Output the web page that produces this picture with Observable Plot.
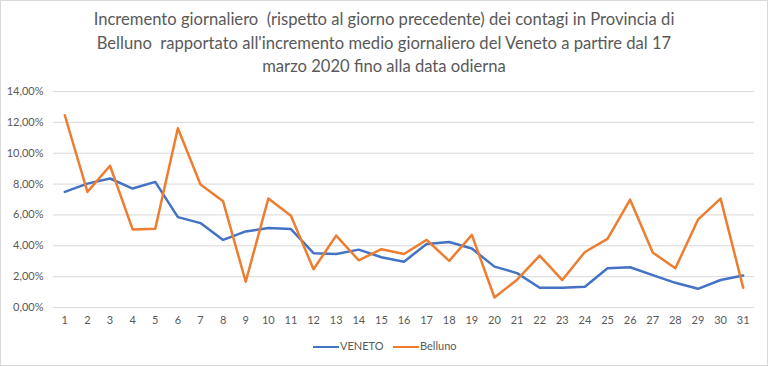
<!DOCTYPE html>
<html><head><meta charset="utf-8">
<script src="https://cdn.jsdelivr.net/npm/d3@7"></script>
<script src="https://cdn.jsdelivr.net/npm/@observablehq/plot@0.6"></script>
<style>
body{margin:0;background:#fff;width:768px;height:366px;position:relative;overflow:hidden;}
#frame{position:absolute;left:0;top:0;width:768px;height:366px;box-sizing:border-box;border:1px solid #d9d9d9;pointer-events:none;}
#title{position:absolute;top:8px;left:0;width:768px;text-align:center;color:#595959;font-family:Lato,sans-serif;font-size:16.6px;line-height:23.5px;}
#chart{position:absolute;top:80px;left:0;}
#legend{position:absolute;top:339px;left:0;width:768px;font-family:Lato,sans-serif;font-size:11px;color:#595959;}
.item{position:absolute;top:0;height:14px;line-height:14px;white-space:nowrap;}
.sw{display:inline-block;width:26px;height:0;border-top:2.5px solid;vertical-align:middle;margin-right:1px;}
</style>
</head><body>
<div id="title">Incremento giornaliero&nbsp; (rispetto al giorno precedente) dei contagi in Provincia di<br>Belluno&nbsp; rapportato all'incremento medio giornaliero del Veneto a partire dal 17<br>marzo 2020 fino alla data odierna</div>
<div id="chart"></div>
<div id="legend">
  <div class="item" style="left:313px"><span class="sw" style="border-color:#4472C4"></span>VENETO</div>
  <div class="item" style="left:393px"><span class="sw" style="border-color:#ED7D31"></span>Belluno</div>
</div>
<div id="frame"></div>
<script>
const days = d3.range(1, 32);
const veneto = [7.49, 8.03, 8.36, 7.71, 8.14, 5.86, 5.47, 4.38, 4.93, 5.15, 5.08, 3.52, 3.47, 3.75, 3.26, 2.97, 4.12, 4.25, 3.82, 2.65, 2.23, 1.28, 1.28, 1.34, 2.54, 2.61, 2.10, 1.60, 1.21, 1.78, 2.08];
const belluno = [12.46, 7.49, 9.19, 5.06, 5.10, 11.62, 7.97, 6.88, 1.67, 7.06, 5.95, 2.48, 4.66, 3.06, 3.78, 3.47, 4.38, 3.02, 4.71, 0.65, 1.80, 3.36, 1.78, 3.60, 4.45, 6.99, 3.56, 2.54, 5.69, 7.06, 1.28];
const seriesNames = ["VENETO", "Belluno"];
const seriesColors = ["#4472C4", "#ED7D31"];
const yTicks = [0, 2, 4, 6, 8, 10, 12, 14];

const data = [
  ...days.map((d, i) => ({day: d, v: veneto[i], s: "VENETO"})),
  ...days.map((d, i) => ({day: d, v: belluno[i], s: "Belluno"}))
];
const fmt = d => d.toFixed(2).replace(".", ",") + "%";

const chart = Plot.plot({
  width: 768, height: 255,
  marginLeft: 53, marginRight: 14, marginTop: 11, marginBottom: 28,
  x: {type: "point", domain: days, padding: 0.5, round: false, label: null},
  y: {domain: [0, 14], label: null},
  color: {domain: seriesNames, range: seriesColors},
  style: {fontFamily: "Lato, sans-serif", fontSize: "11px", color: "#595959", background: "transparent"},
  marks: [
    Plot.ruleY(yTicks, {stroke: "#d9d9d9", strokeWidth: 1}),
    Plot.axisY({ticks: yTicks, tickSize: 0, tickPadding: 10, tickFormat: fmt, label: null}),
    Plot.axisX({tickSize: 0, tickPadding: 9, label: null}),
    Plot.line(data, {x: "day", y: "v", z: "s", stroke: "s", strokeWidth: 2.5})
  ]
});
document.getElementById("chart").appendChild(chart);
</script>
</body></html>
